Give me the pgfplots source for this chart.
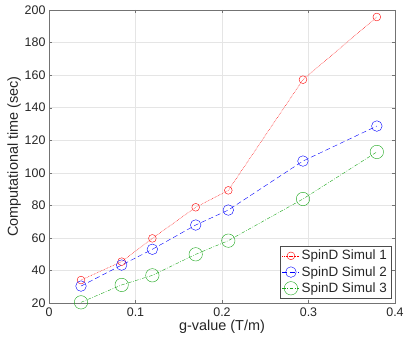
\documentclass[border=0pt]{standalone}
\usepackage{fontspec}
\setmainfont{Liberation Sans}
\usepackage{pgfplots}
\pgfplotsset{compat=1.18}
\definecolor{mgreen}{rgb}{0.1,0.65,0.1}
\definecolor{txt}{gray}{0.15}
\begin{document}
\begin{tikzpicture}
	\begin{axis}[
		scale only axis, width=346bp, height=293bp,
		xmin=0, xmax=0.4, ymin=20, ymax=200,
		xtick={0,0.1,...,0.4}, ytick={20,40,...,200},
		/pgf/number format/assume math mode=true,
		tick label style={font=\fontsize{12.5}{14}\selectfont, text=txt},
		xticklabel style={yshift=-1bp},
		label style={font=\fontsize{14.5}{16}\selectfont, text=txt},
		xlabel={g-value (T/m)}, ylabel={Computational time (sec)},
		xlabel style={yshift=3bp}, ylabel style={yshift=-3bp},
		grid=major, major grid style={black!10},
		axis line style={black!55}, tick style={black!55},
		tick align=inside, major tick length=3bp,
		legend pos=south east,
		legend style={font=\fontsize{13.5}{15}\selectfont, draw=black!70, inner sep=2.5pt, row sep=1bp, at={(0.99,0.015)}},
		legend cell align=left,
		]
		\coordinate (o) at (rel axis cs:0,0);
		\addplot[color=red, dash pattern=on 0.7bp off 0.9bp, mark=o, mark size=3.9bp, mark options={solid}] coordinates {
			(0.037,34.1) (0.084,45.4) (0.1195,59.7) (0.1696,78.8) (0.2073,89.2) (0.2936,157.2) (0.379,195.7)};
		\addplot[color=blue, dash pattern=on 5bp off 3bp, mark=o, mark size=5.3bp, mark options={solid}] coordinates {
			(0.037,30.4) (0.084,43.3) (0.1195,53) (0.1696,67.9) (0.2073,77.1) (0.2936,107.2) (0.379,128.7)};
		\addplot[color=mgreen, dash pattern=on 3.5bp off 1.5bp on 0.8bp off 1.5bp, mark=o, mark size=6.7bp, mark options={solid}] coordinates {
			(0.037,20.4) (0.084,31.1) (0.1195,37) (0.1696,49.9) (0.2073,58.3) (0.2936,83.9) (0.379,112.8)};
		\legend{\textcolor{txt}{SpinD Simul 1}, \textcolor{txt}{SpinD Simul 2}, \textcolor{txt}{SpinD Simul 3}}
	\end{axis}
	\pgfresetboundingbox
	\path (o) ++(-49bp,-43bp) rectangle ++(407bp,346bp);
\end{tikzpicture}
\end{document}
